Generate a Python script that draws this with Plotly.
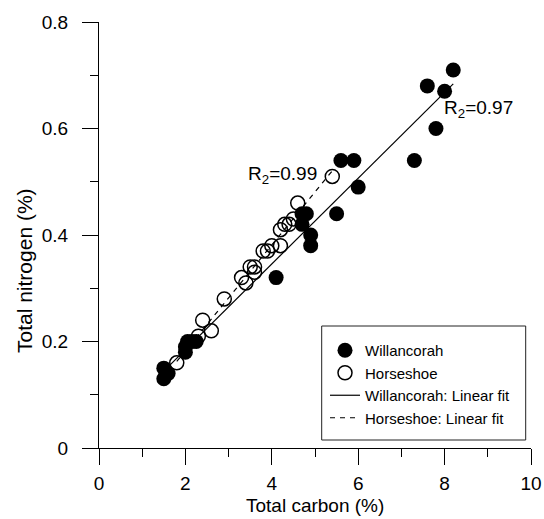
import numpy as np
import plotly.graph_objects as go

# Willancorah samples: total carbon (%) and total nitrogen (%)
will_carbon = [1.5, 1.5, 1.6, 2.0, 2.0, 2.05, 2.15, 2.25, 4.1, 4.7, 4.7, 4.8, 4.9, 4.9,
               5.5, 5.6, 5.9, 6.0, 7.3, 7.6, 7.8, 8.0, 8.2]
will_nitrogen = [0.13, 0.15, 0.14, 0.18, 0.19, 0.20, 0.20, 0.20, 0.32, 0.42, 0.44, 0.44, 0.40, 0.38,
                 0.44, 0.54, 0.54, 0.49, 0.54, 0.68, 0.60, 0.67, 0.71]

# Horseshoe samples
hs_carbon = [1.8, 2.3, 2.4, 2.6, 2.9, 3.3, 3.4, 3.5, 3.6, 3.6, 3.8, 3.9, 4.0, 4.2, 4.2,
             4.3, 4.4, 4.5, 4.6, 5.4]
hs_nitrogen = [0.16, 0.21, 0.24, 0.22, 0.28, 0.32, 0.31, 0.34, 0.34, 0.33, 0.37, 0.37, 0.38, 0.38, 0.41,
               0.42, 0.42, 0.43, 0.46, 0.51]

# R-squared labels
will_r2_label = "R<sub>2</sub>=0.97"
hs_r2_label = "R<sub>2</sub>=0.99"

x_ticks = [0, 2, 4, 6, 8, 10]
y_ticks = [0, 0.2, 0.4, 0.6, 0.8]

FONT = "Liberation Sans, Arial, Helvetica, sans-serif"

# plot area in pixels
L, R, T, B = 99, 13, 22, 71
W, H = 544, 519
PW, PH = W - L - R, H - T - B


def px_x(p):
    return (p - L) / PW


def px_y(p):
    return (H - B - p) / PH


def linear_fit(x, y):
    slope, intercept = np.polyfit(x, y, 1)
    xs = np.array([min(x), max(x)])
    return xs, slope * xs + intercept


will_fx, will_fy = linear_fit(will_carbon, will_nitrogen)
hs_fx, hs_fy = linear_fit(hs_carbon, hs_nitrogen)

fig = go.Figure()

fig.add_trace(go.Scatter(
    x=will_fx, y=will_fy, mode="lines", name="Willancorah: Linear fit",
    line=dict(color="black", width=1.2), showlegend=False))
fig.add_trace(go.Scatter(
    x=hs_fx, y=hs_fy, mode="lines", name="Horseshoe: Linear fit",
    line=dict(color="black", width=1.2, dash="5px,5px"), showlegend=False))

fig.add_trace(go.Scatter(
    x=hs_carbon, y=hs_nitrogen, mode="markers", name="Horseshoe", legendrank=2,
    marker=dict(symbol="circle-open", size=14, color="black", line=dict(width=1.5))))
fig.add_trace(go.Scatter(
    x=will_carbon, y=will_nitrogen, mode="markers", name="Willancorah", legendrank=1,
    marker=dict(symbol="circle", size=15, color="black")))

# legend-only entries for the fitted lines
fig.add_trace(go.Scatter(
    x=[None], y=[None], mode="lines", name="Willancorah: Linear fit", legendrank=3,
    line=dict(color="black", width=1.2)))
fig.add_trace(go.Scatter(
    x=[None], y=[None], mode="lines", name="Horseshoe: Linear fit", legendrank=4,
    line=dict(color="black", width=1.2, dash="5px,5px")))

axis_common = dict(
    showline=True, linecolor="black", linewidth=1, mirror=False,
    ticks="outside", ticklen=16, tickwidth=1, tickcolor="black",
    showgrid=False, zeroline=False, automargin=False,
    tickfont=dict(family=FONT, size=19, color="black"),
)

fig.update_xaxes(range=[0, 10], tickvals=x_ticks, ticktext=[str(v) for v in x_ticks],
                 minor=dict(ticks="outside", ticklen=8, tickwidth=1, tickcolor="black", dtick=1, showgrid=False),
                 ticklabelstandoff=2,
                 **axis_common)
fig.update_yaxes(range=[0, 0.8], tickvals=y_ticks, ticktext=["0", "0.2", "0.4", "0.6", "0.8"],
                 minor=dict(ticks="outside", ticklen=8, tickwidth=1, tickcolor="black", dtick=0.1, showgrid=False),
                 ticklabelstandoff=10,
                 **axis_common)

annotations = [
    dict(text=hs_r2_label, x=3.4, y=0.513, xref="x", yref="y", xanchor="left", yanchor="middle",
         showarrow=False, font=dict(family=FONT, size=19, color="black")),
    dict(text=will_r2_label, x=7.93, y=0.637, xref="x", yref="y", xanchor="left", yanchor="middle",
         showarrow=False, font=dict(family=FONT, size=19, color="black")),
    dict(text="Total carbon (%)", x=0.5, y=px_y(505), xref="paper", yref="paper",
         xanchor="center", yanchor="middle", showarrow=False,
         font=dict(family=FONT, size=19, color="black")),
    dict(text="Total nitrogen (%)", x=px_x(24), y=px_y(271), xref="paper", yref="paper", textangle=-90,
         xanchor="center", yanchor="middle", showarrow=False,
         font=dict(family=FONT, size=21, color="black")),
]

# legend frame
shapes = [dict(type="rect", xref="paper", yref="paper",
               x0=px_x(321.7), x1=px_x(525.7), y0=px_y(440), y1=px_y(326),
               line=dict(color="#222222", width=1), fillcolor="rgba(0,0,0,0)")]

fig.update_layout(
    width=W, height=H,
    margin=dict(l=L, r=R, t=T, b=B, autoexpand=False),
    paper_bgcolor="white", plot_bgcolor="white",
    font=dict(family=FONT, size=15, color="black"),
    showlegend=True,
    legend=dict(x=px_x(325), y=px_y(334), xanchor="left", yanchor="top",
                bgcolor="rgba(0,0,0,0)", borderwidth=0,
                font=dict(family=FONT, size=15, color="black"),
                tracegroupgap=0),
    annotations=annotations,
    shapes=shapes,
)

fig.write_html("out.html")
